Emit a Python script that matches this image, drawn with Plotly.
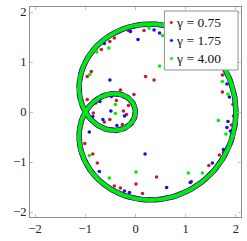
import numpy as np
import plotly.graph_objects as go

# ---- data ----
series_names = ["γ = 0.75", "γ = 1.75", "γ = 4.00"]

red_x = [-0.14, 0.17, -0.42, -0.51, -0.68, -0.88, -0.96, 0.20, 0.37, 1.73, 1.73, 1.94, 1.91, 1.95,
         -0.30, -0.03, -0.38, -0.79, -0.96, -0.14, -0.24, -0.18, -0.51, -0.62, -0.26, -0.84,
         -1.01, -0.85, -0.76, -0.42, -0.30, 0.01, 0.14, 0.42, 1.11, 1.46, 1.67, 1.75]
red_y = [1.63, 1.63, 1.48, 1.41, 1.25, 0.81, 0.71, 0.71, 0.64, 0.74, 0.40, 0.15, -0.26, -0.08,
         0.44, 0.35, 0.23, 0.18, 0.25, 0.13, 0.02, -0.05, -0.15, -0.20, -0.25, -0.02,
         -0.63, -0.84, -1.02, -1.48, -1.52, -1.44, -1.63, -1.30, -1.39, -1.07, -0.86, -0.81]

blue_x = [-0.10, 0.05, -0.62, 0.37, 0.48, -0.51, 1.82, 1.87, 1.84, 1.82, 1.89, 1.75, 1.53,
          1.09, 0.62, 0.19, -0.12, -0.22, -0.72, -0.92,
          -0.48, -0.71, -0.49, -0.85, -0.65, -0.22, -0.37]
blue_y = [1.61, 1.45, 1.37, 1.64, 1.58, 0.64, 0.56, 0.30, -0.19, -0.31, -0.38, -0.75, -1.02,
          -1.41, -1.51, -0.84, -1.61, -1.58, -1.19, -0.40,
          0.31, 0.21, 0.02, -0.09, -0.15, -0.08, -0.27]

green_x = [0.27, -0.53, -0.77, -0.91, 0.48, 0.54, -0.40, -0.40, 1.73, 1.84, 1.65, 1.80,
           0.01, 1.05, 1.33, -0.52, -0.92]
green_y = [1.68, 1.28, 1.20, 0.75, 0.92, 1.53, 0.15, -0.03, 0.61, 0.36, -0.17, -0.44,
           -1.20, -1.22, -1.22, -1.32, -0.87]

tick_vals = [-2, -1, 0, 1, 2]
tick_text = ["−2", "−1", "0", "1", "2"]

# reference curve (limaçon): x = cos t + cos 2t, y = sin t + sin 2t
theta = np.linspace(0, 2 * np.pi, 721)
curve_x = np.cos(theta) + np.cos(2 * theta)
curve_y = np.sin(theta) + np.sin(2 * theta)

# ---- styles ----
colors = ["#bf1e2e", "#1010f0", "#00ee00"]
band_widths = [5.5, 5, 4]
serif = "Liberation Serif, DejaVu Serif, serif"

fig = go.Figure()
pts = [(red_x, red_y), (blue_x, blue_y), (green_x, green_y)]
for name, col, bw, (px, py) in zip(series_names, colors, band_widths, pts):
    fig.add_trace(go.Scatter(x=curve_x, y=curve_y, mode="lines",
                             line=dict(color=col, width=bw), hoverinfo="skip",
                             showlegend=False))
    fig.add_trace(go.Scatter(x=px, y=py, mode="markers", name=name,
                             marker=dict(color=col, size=3.6, line=dict(width=0)),
                             showlegend=False))

axis_common = dict(range=[-2.1, 2.1], tickvals=tick_vals, ticktext=tick_text,
                   showgrid=False, zeroline=False, showline=True, linecolor="#8f8f8f",
                   linewidth=1, mirror="ticks", ticks="inside", ticklen=3,
                   tickcolor="#c4c4c4", tickwidth=1,
                   tickfont=dict(family=serif, size=12.5, color="#222"))
fig.update_xaxes(**axis_common)
fig.update_yaxes(**axis_common)

# legend box (compact, pgfplots-like)
fig.add_shape(type="rect", xref="paper", yref="paper", x0=0.637, x1=0.986, y0=0.700, y1=0.981,
              line=dict(color="#8f8f8f", width=1), fillcolor="white", layer="above")
for i, (name, col) in enumerate(zip(series_names, colors)):
    fig.add_annotation(xref="paper", yref="paper", x=0.650, y=0.925 - i * 0.0845,
                       xanchor="left", yanchor="middle", showarrow=False,
                       text=f"<span style='color:{col}'>•</span> {name}",
                       font=dict(family=serif, size=13.5, color="#111"))

fig.update_layout(width=247, height=241, margin=dict(l=30, r=5, t=5, b=23),
                  plot_bgcolor="white", paper_bgcolor="white", showlegend=False)

fig.write_html("out.html", config={"displayModeBar": False, "staticPlot": True},
               post_script="document.body.style.margin='0';document.body.style.overflow='hidden';")
